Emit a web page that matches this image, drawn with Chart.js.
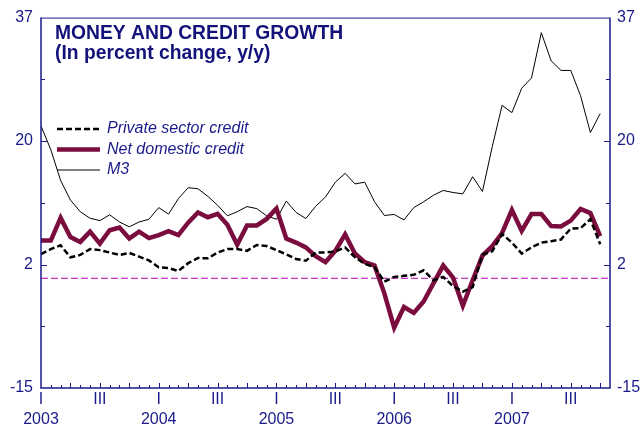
<!DOCTYPE html>
<html>
<head>
<meta charset="utf-8">
<title>Money and credit growth</title>
<script src="https://cdn.jsdelivr.net/npm/chart.js@4.4.1/dist/chart.umd.min.js"></script>
<style>
  html, body { margin: 0; padding: 0; background: #ffffff; }
  #wrap { width: 642px; height: 429px; }
</style>
</head>
<body>
<div id="wrap"><canvas id="myChart" width="642" height="429"></canvas></div>
<script>
// Monthly y/y growth, Jan 2003 - Oct 2007 (index 0 = Jan 2003)
const privateCredit = [
  3.5, 4.25, 4.8, 3.05, 3.4, 4.25, 4.1, 3.75, 3.4, 3.7, 3.15, 2.6,
  1.6, 1.5, 1.05, 2.2, 2.95, 2.9, 3.75, 4.25, 4.25, 4.0, 4.85, 4.7,
  4.1, 3.5, 2.8, 2.55, 3.75, 3.75, 3.9, 4.5, 3.05, 2.1, 1.6, -0.5,
  0.2, 0.35, 0.5, 1.15, -0.3, 0.2, -1.15, -1.95, -1.3, 3.45, 3.95, 6.45,
  5.2, 3.6, 4.5, 5.2, 5.4, 5.65, 7.25, 7.3, 8.6, 4.95
];
const netDomesticCredit = [
  5.5, 5.5, 8.8, 6.0, 5.3, 6.8, 5.05, 7.0, 7.4, 5.8, 6.8, 5.85,
  6.3, 6.85, 6.3, 8.1, 9.6, 8.9, 9.4, 7.8, 4.9, 7.7, 7.7, 8.65,
  10.15, 5.8, 5.2, 4.5, 3.2, 2.35, 4.0, 6.4, 3.6, 2.35, 1.85, -2.2,
  -7.2, -4.2, -5.05, -3.4, -0.75, 1.85, 0.1, -4.0, -0.3, 3.3, 4.7, 6.6,
  9.95, 6.9, 9.35, 9.35, 7.6, 7.55, 8.4, 10.1, 9.5, 6.15
];
const m3 = [
  22.2, 18.75, 14.25, 11.4, 9.7, 8.75, 8.4, 9.25, 8.2, 7.5, 8.2, 8.6,
  10.3, 9.35, 11.6, 13.2, 13.05, 11.95, 10.65, 9.1, 9.7, 10.45, 10.15, 9.1,
  8.6, 11.25, 9.6, 8.7, 10.5, 11.85, 14.0, 15.3, 13.75, 14.0, 11.15, 9.15,
  9.3, 8.5, 10.3, 11.15, 12.1, 12.8, 12.5, 12.3, 14.8, 12.65, 19.2, 25.2,
  24.15, 27.7, 29.2, 35.8, 31.7, 30.3, 30.3, 26.6, 21.25, 24.0
];
const zeroLine = 0;

const years = ['2003', '2004', '2005', '2006', '2007'];
const quarterLabels = ['I', 'III'];
const monthCount = 58;

const yTickValues = [-16, -7, 2, 11, 20, 29, 38];
const yTickLabels = ['-15', '', '2', '', '20', '', '37'];

const navy = '#1a1a8a';
const titleColor = '#12127a';
const fontFamily = "'Liberation Sans', Arial, sans-serif";

function toPoints(values) {
  return values.map((v, i) => ({ x: i, y: v }));
}

function monthLabel(value) {
  if (value % 12 === 0 && years[value / 12]) return [quarterLabels[0], years[value / 12]];
  if (value % 12 === 6) return quarterLabels[1];
  return '';
}

function yLabel(value) {
  const i = yTickValues.indexOf(value);
  return i >= 0 ? yTickLabels[i] : '';
}

function setYTicks(scale) {
  scale.ticks = yTickValues.map(v => ({ value: v }));
}

// box around the plot plus the small inward tick marks
const framePlugin = {
  id: 'frame',
  afterDatasetsDraw(chart) {
    const ctx = chart.ctx;
    const a = chart.chartArea;
    const xs = chart.scales.x;
    const ys = chart.scales.y;
    ctx.save();
    ctx.strokeStyle = navy;
    ctx.lineWidth = 1;
    ctx.beginPath();
    ctx.moveTo(a.left, a.top + 0.5);
    ctx.lineTo(a.right, a.top + 0.5);
    ctx.stroke();
    ctx.lineWidth = 1.5;
    ctx.beginPath();
    ctx.moveTo(a.left, a.top);
    ctx.lineTo(a.left, a.bottom);
    ctx.lineTo(a.right, a.bottom);
    ctx.lineTo(a.right, a.top);
    ctx.stroke();

    ctx.lineWidth = 1;
    ctx.beginPath();
    for (let m = 1; m < monthCount; m++) {
      const px = Math.round(xs.getPixelForValue(m)) + 0.5;
      const len = m % 3 === 0 ? 5 : 3;
      ctx.moveTo(px, a.bottom);
      ctx.lineTo(px, a.bottom - len);
    }
    yTickValues.slice(1, -1).forEach((v, i) => {
      const py = Math.round(ys.getPixelForValue(v)) + 0.5;
      const len = yTickLabels[i + 1] ? 6 : 4;
      ctx.moveTo(a.left, py);
      ctx.lineTo(a.left + len, py);
      ctx.moveTo(a.right, py);
      ctx.lineTo(a.right - len, py);
    });
    ctx.stroke();
    ctx.restore();
  }
};

// chart title and the key, both sitting inside the plot
const notesPlugin = {
  id: 'notes',
  afterDraw(chart) {
    const ctx = chart.ctx;
    ctx.save();
    ctx.fillStyle = titleColor;
    ctx.textBaseline = 'alphabetic';
    ctx.font = "bold 19.3px " + fontFamily;
    ctx.fillText('MONEY AND CREDIT GROWTH', 55, 39);
    ctx.fillText('(In percent change, y/y)', 55, 59);

    ctx.font = "italic 16px " + fontFamily;
    ctx.textBaseline = 'middle';
    const rows = [129, 149.5, 170];
    chart.data.datasets.slice(0, 3).forEach((ds, i) => {
      const y = rows[i];
      ctx.strokeStyle = ds.borderColor;
      ctx.lineWidth = ds.borderWidth;
      ctx.setLineDash(ds.borderDash || []);
      ctx.beginPath();
      ctx.moveTo(57, y);
      ctx.lineTo(100, y);
      ctx.stroke();
      ctx.setLineDash([]);
      ctx.fillStyle = navy;
      ctx.fillText(ds.label, 107, y);
    });
    ctx.restore();
  }
};

const ctx = document.getElementById('myChart').getContext('2d');
new Chart(ctx, {
  type: 'line',
  data: {
    datasets: [
      {
        label: 'Private sector credit',
        data: toPoints(privateCredit),
        borderColor: '#000000',
        borderWidth: 2.5,
        borderDash: [6, 3]
      },
      {
        label: 'Net domestic credit',
        data: toPoints(netDomesticCredit),
        borderColor: '#7a0c3e',
        borderWidth: 4.5
      },
      {
        label: 'M3',
        data: toPoints(m3),
        borderColor: '#000000',
        borderWidth: 1
      },
      {
        label: 'zero',
        data: [{ x: 0, y: zeroLine }, { x: monthCount, y: zeroLine }],
        borderColor: '#b000b0',
        borderWidth: 1,
        borderDash: [7, 3]
      }
    ]
  },
  options: {
    responsive: false,
    animation: false,
    layout: { padding: { top: 12, left: 0, right: 0, bottom: 0 } },
    elements: {
      point: { radius: 0 },
      line: { tension: 0, borderJoinStyle: 'miter', borderCapStyle: 'butt' }
    },
    plugins: {
      legend: { display: false },
      tooltip: { enabled: false }
    },
    scales: {
      x: {
        type: 'linear',
        min: 0,
        max: monthCount,
        grid: { display: false, drawTicks: false },
        border: { display: false },
        afterBuildTicks: s => {
          s.ticks = Array.from({ length: monthCount + 1 }, (_, i) => ({ value: i }));
        },
        afterFit: s => { s.height = 41; },
        ticks: {
          autoSkip: false,
          maxRotation: 0,
          padding: 1,
          color: navy,
          font: { family: fontFamily, size: 16, lineHeight: 1.28 },
          callback: v => monthLabel(v)
        }
      },
      y: {
        position: 'left',
        min: -16,
        max: 38,
        grid: { display: false, drawTicks: false },
        border: { display: false },
        afterBuildTicks: setYTicks,
        afterFit: s => { s.width = 41; },
        ticks: {
          padding: 8,
          color: navy,
          font: { family: fontFamily, size: 16 },
          callback: v => yLabel(v)
        }
      },
      y2: {
        position: 'right',
        min: -16,
        max: 38,
        grid: { display: false, drawTicks: false },
        border: { display: false },
        afterBuildTicks: setYTicks,
        afterFit: s => { s.width = 32; },
        ticks: {
          padding: 7,
          color: navy,
          font: { family: fontFamily, size: 16 },
          callback: v => yLabel(v)
        }
      }
    }
  },
  plugins: [framePlugin, notesPlugin]
});
</script>
</body>
</html>
